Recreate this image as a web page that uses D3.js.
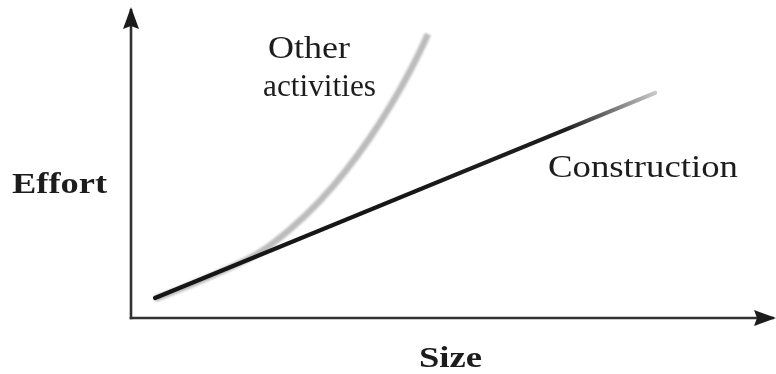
<!DOCTYPE html>
<html>
<head>
<meta charset="utf-8">
<script src="https://cdn.jsdelivr.net/npm/d3@7"></script>
<style>
  html, body { margin: 0; padding: 0; background: #fff; }
  svg { display: block; }
  text { font-family: "Liberation Serif", "DejaVu Serif", serif; fill: #1c1c1c; }
</style>
</head>
<body>
<svg id="chart" width="776" height="374"></svg>
<script>
// Size vs effort, in arbitrary units (0–100 on each axis)
const constructionSize   = [3.75, 81.9];
const constructionEffort = [6.5, 73.1];

const otherSize   = [3.75, 13.9, 20.2, 24.8, 29.5, 33.4, 37.3, 40.5, 42.8, 44.8, 46.4];
const otherEffort = [6.2, 14.9, 21.4, 28.7, 38.0, 47.4, 58.4, 68.8, 77.1, 85.1, 92.2];

const axisTitles = { x: "Size", y: "Effort" };
const curveLabels = { construction: "Construction", other: ["Other", "activities"] };

const svg = d3.select("#chart");
const margin = { left: 131, right: 5, top: 10, bottom: 56 };
const W = 776, H = 374;

const x = d3.scaleLinear().domain([0, 100]).range([margin.left, W - margin.right]);
const y = d3.scaleLinear().domain([0, 100]).range([H - margin.bottom, margin.top]);

const defs = svg.append("defs");

// soft print-like edges
const soft = defs.append("filter").attr("id", "soft")
  .attr("x", "-5%").attr("y", "-5%").attr("width", "110%").attr("height", "110%");
soft.append("feGaussianBlur").attr("stdDeviation", 0.6);

const softer = defs.append("filter").attr("id", "softer")
  .attr("x", "-5%").attr("y", "-5%").attr("width", "110%").attr("height", "110%");
softer.append("feGaussianBlur").attr("stdDeviation", 1.1);

// arrowheads
defs.append("marker").attr("id", "arrow")
  .attr("viewBox", "0 0 22 16").attr("refX", 20).attr("refY", 8)
  .attr("markerWidth", 22).attr("markerHeight", 16).attr("orient", "auto")
  .attr("markerUnits", "userSpaceOnUse")
  .append("path").attr("d", "M0,0 L22,8 L0,16 L3,8 Z").attr("fill", "#1e1e1e");

// fading tail of the construction line
const grad = defs.append("linearGradient").attr("id", "fade")
  .attr("gradientUnits", "userSpaceOnUse")
  .attr("x1", x(constructionSize[0])).attr("y1", y(constructionEffort[0]))
  .attr("x2", x(constructionSize[1])).attr("y2", y(constructionEffort[1]));
grad.append("stop").attr("offset", "0%").attr("stop-color", "#141414");
grad.append("stop").attr("offset", "82%").attr("stop-color", "#1c1c1c");
grad.append("stop").attr("offset", "100%").attr("stop-color", "#c8c8c8");

// other activities (grey curve), drawn beneath the straight line
const curveLine = d3.line()
  .x((d, i) => x(otherSize[i]))
  .y((d, i) => y(otherEffort[i]))
  .curve(d3.curveMonotoneX);
svg.append("path")
  .datum(otherSize)
  .attr("d", curveLine)
  .attr("fill", "none")
  .attr("stroke", "#bcbcbc")
  .attr("stroke-width", 6.5)
  .attr("stroke-linecap", "butt")
  .attr("filter", "url(#softer)");

const g = svg.append("g").attr("filter", "url(#soft)");

// axes: bare domain lines with arrowheads
const xAxis = g.append("g").attr("transform", `translate(0,${y(0)})`)
  .call(d3.axisBottom(x).ticks(0).tickSizeOuter(0));
const yAxis = g.append("g").attr("transform", `translate(${x(0)},0)`)
  .call(d3.axisLeft(y).ticks(0).tickSizeOuter(0));
[xAxis, yAxis].forEach(a => a.select(".domain")
  .attr("stroke", "#333").attr("stroke-width", 2.6)
  .attr("marker-end", "url(#arrow)"));
// make the domain paths run toward their arrow tips
xAxis.select(".domain").attr("d", `M${x(0) - 1.3},0H${W - 2}`);
yAxis.select(".domain").attr("d", `M0,${y(0) + 1.3}V${y(100) - 1}`);

// construction (straight line)
const straight = d3.line()
  .x((d, i) => x(constructionSize[i]))
  .y((d, i) => y(constructionEffort[i]));
g.append("path")
  .datum(constructionSize)
  .attr("d", straight)
  .attr("fill", "none")
  .attr("stroke", "url(#fade)")
  .attr("stroke-width", 4.2)
  .attr("stroke-linecap", "round");

// labels
const labels = svg.append("g").attr("filter", "url(#soft)");
labels.append("text").attr("x", 12).attr("y", 193)
  .attr("font-size", 30).attr("font-weight", "bold")
  .attr("textLength", 95).attr("lengthAdjust", "spacingAndGlyphs")
  .text(axisTitles.y);
labels.append("text").attr("x", 419).attr("y", 367)
  .attr("font-size", 29).attr("font-weight", "bold")
  .attr("textLength", 63).attr("lengthAdjust", "spacingAndGlyphs")
  .text(axisTitles.x);
labels.append("text").attr("x", 268).attr("y", 58)
  .attr("font-size", 31)
  .attr("textLength", 82).attr("lengthAdjust", "spacingAndGlyphs")
  .text(curveLabels.other[0]);
labels.append("text").attr("x", 263).attr("y", 96)
  .attr("font-size", 31)
  .attr("textLength", 113).attr("lengthAdjust", "spacingAndGlyphs")
  .text(curveLabels.other[1]);
labels.append("text").attr("x", 548).attr("y", 177)
  .attr("font-size", 31)
  .attr("textLength", 190).attr("lengthAdjust", "spacingAndGlyphs")
  .text(curveLabels.construction);
</script>
</body>
</html>
